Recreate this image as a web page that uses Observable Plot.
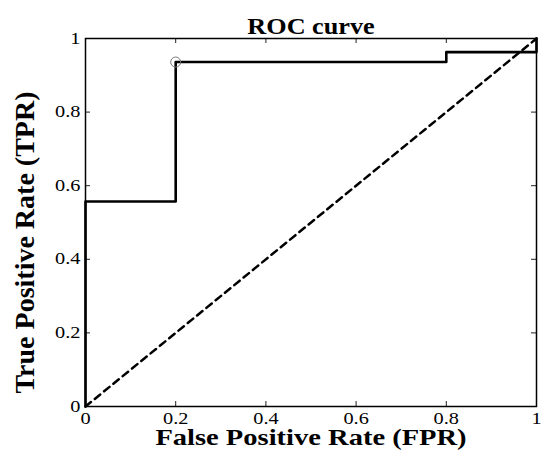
<!DOCTYPE html>
<html>
<head>
<meta charset="utf-8">
<script src="https://cdn.jsdelivr.net/npm/d3@7"></script>
<script src="https://cdn.jsdelivr.net/npm/@observablehq/plot@0.6"></script>
<style>
  html, body { margin: 0; padding: 0; background: #fff; }
  #chart svg { display: block; }
</style>
</head>
<body>
<div id="chart"></div>
<script>
// ROC curve corners (step-after)
const fpr = [0, 0, 0.2, 0.8, 1];
const tpr = [0, 0.557, 0.936, 0.963, 1];
// chance diagonal
const diagFpr = [0, 1];
const diagTpr = [0, 1];
// highlighted operating point
const pointFpr = [0.2];
const pointTpr = [0.936];
// ticks
const ticks = [0, 0.2, 0.4, 0.6, 0.8, 1];
const tickLabels = ["0", "0.2", "0.4", "0.6", "0.8", "1"];
const titleText = "ROC curve";
const xLabel = "False Positive Rate (FPR)";
const yLabel = "True Positive Rate (TPR)";

const roc = fpr.map((x, i) => ({x, y: tpr[i]}));
const diag = diagFpr.map((x, i) => ({x, y: diagTpr[i]}));
const pt = pointFpr.map((x, i) => ({x, y: pointTpr[i]}));

const serif = "'Liberation Serif', 'Times New Roman', serif";
const W = 549, H = 458, mL = 85, mR = 13, mT = 38, mB = 52;
const frameH = H - mT - mB, frameW = W - mL - mR;
const tl = 5;

const plot = Plot.plot({
  width: W, height: H,
  marginLeft: mL, marginRight: mR, marginTop: mT, marginBottom: mB,
  style: {fontFamily: serif, background: "#fff", overflow: "visible"},
  x: {domain: [0, 1], axis: null},
  y: {domain: [0, 1], axis: null},
  marks: [
    // inward ticks
    Plot.tickX(ticks, {x: d => d, insetTop: frameH - tl, stroke: "#222", strokeWidth: 1}),
    Plot.tickX(ticks, {x: d => d, insetBottom: frameH - tl, stroke: "#222", strokeWidth: 1}),
    Plot.tickY(ticks, {y: d => d, insetRight: frameW - tl, stroke: "#222", strokeWidth: 1}),
    Plot.tickY(ticks, {y: d => d, insetLeft: frameW - tl, stroke: "#222", strokeWidth: 1}),
    Plot.frame({stroke: "#000", strokeWidth: 1.5}),
    Plot.line(diag, {x: "x", y: "y", stroke: "#000", strokeWidth: 2.5, strokeDasharray: "7,5"}),
    Plot.line(roc, {x: "x", y: "y", curve: "step-after", stroke: "#000", strokeWidth: 2.6}),
    Plot.dot(pt, {x: "x", y: "y", r: 5, stroke: "#777", strokeWidth: 1, fill: "none"}),
    // tick labels
    Plot.text(ticks, {x: d => d, text: (d, i) => tickLabels[i], frameAnchor: "bottom", dy: 17,
      fontSize: 16, fill: "#000", textAnchor: "middle"}),
    Plot.text(ticks, {y: d => d, text: (d, i) => tickLabels[i], frameAnchor: "left", dx: -5,
      fontSize: 16, fill: "#000", textAnchor: "end"}),
    // title and axis labels
    Plot.text([titleText], {frameAnchor: "top", dy: -21, fontSize: 23, fontWeight: "bold",
      fill: "#000", textAnchor: "middle"}),
    Plot.text([xLabel], {frameAnchor: "bottom", dy: 38.5, fontSize: 23, fontWeight: "bold",
      fill: "#000", textAnchor: "middle"}),
    Plot.text([yLabel], {frameAnchor: "left", dx: -60, dy: 20, rotate: -90, fontSize: 28,
      fontWeight: "bold", fill: "#000", textAnchor: "middle"})
  ]
});
document.getElementById("chart").appendChild(plot);

const stretchBy = new Map([[titleText, 1.14], [xLabel, 1.24]]);
tickLabels.forEach(t => stretchBy.set(t, 1.27));
d3.select(plot).selectAll("text").each(function() {
  const f = stretchBy.get(this.textContent);
  if (!f) return;
  const w = this.getComputedTextLength();
  if (w > 0) {
    this.setAttribute("textLength", (w * f).toFixed(2));
    this.setAttribute("lengthAdjust", "spacingAndGlyphs");
  }
});
</script>
</body>
</html>
